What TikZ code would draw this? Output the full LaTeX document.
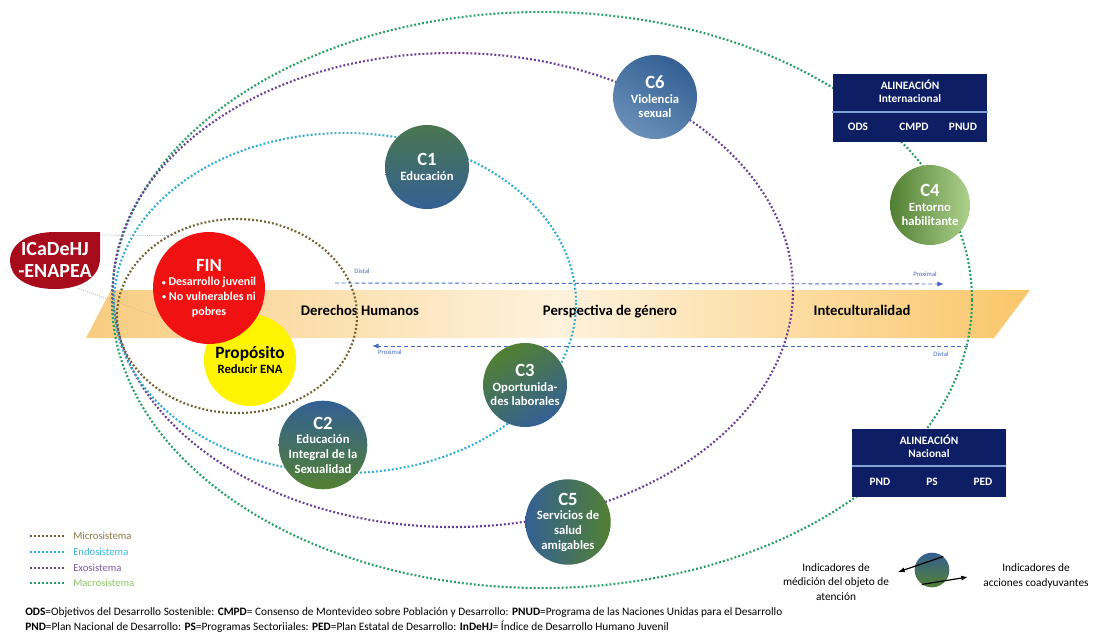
\documentclass[tikz,border=0pt]{standalone}
\usepackage{fontspec}
\setmainfont{Carlito}
\usetikzlibrary{arrows.meta}

\definecolor{microc}{RGB}{112,96,52}
\definecolor{endoc}{RGB}{48,172,212}
\definecolor{exoc}{RGB}{104,62,150}
\definecolor{macroc}{RGB}{38,158,98}
\definecolor{microt}{RGB}{140,120,70}
\definecolor{endot}{RGB}{60,182,226}
\definecolor{exot}{RGB}{128,88,170}
\definecolor{macrot}{RGB}{140,200,100}
\definecolor{bandl}{RGB}{248,204,128}
\definecolor{bandm}{RGB}{254,242,220}
\definecolor{bandr}{RGB}{250,198,105}
\definecolor{navy}{RGB}{14,30,100}
\definecolor{navyline}{RGB}{130,160,210}
\definecolor{finred}{RGB}{240,18,18}
\definecolor{propyel}{RGB}{255,244,0}
\definecolor{icadred}{RGB}{168,12,28}
\definecolor{flowblue}{RGB}{72,106,196}
\definecolor{linkgray}{RGB}{170,190,205}
\definecolor{cblue}{RGB}{52,96,148}
\definecolor{cgreen}{RGB}{82,128,50}
\definecolor{clight}{RGB}{172,200,228}
\definecolor{clgreen}{RGB}{172,208,140}

\newcommand{\comptitle}{\fontsize{14}{15}\selectfont}
\newcommand{\finbullet}{{\fontsize{6}{6}\selectfont\raisebox{0.5pt}{•}}\ }

\begin{document}
\begin{tikzpicture}[x=0.75pt,y=-0.75pt,
  sys/.style={line width=1.6pt,dash pattern=on 1.4pt off 1.6pt},
  comp/.style={circle,minimum size=63pt,inner sep=0pt,align=center,text=white,
    font=\bfseries\fontsize{9.5}{11}\selectfont},
  flow/.style={draw=flowblue,densely dashed,line width=0.7pt,-{Latex[length=5pt,width=4pt]}},
  flowlbl/.style={text=flowblue,font=\fontsize{5}{6}\selectfont,inner sep=1pt},
  bandtxt/.style={font=\bfseries\fontsize{11}{12}\selectfont,text height=8pt,text depth=2pt},
  navybox/.style={fill=navy,inner sep=0pt},
  boxtxt/.style={text=white,font=\bfseries\fontsize{8.5}{10}\selectfont,align=center,inner sep=0pt},
  legtxt/.style={anchor=west,font=\fontsize{8}{9}\selectfont,inner sep=0pt},
  link/.style={draw=linkgray,line width=0.6pt,densely dotted},
  note/.style={anchor=west,font=\fontsize{8.5}{10}\selectfont,inner sep=0pt},
  indtxt/.style={align=center,font=\fontsize{8.5}{11}\selectfont,inner sep=0pt}]
  \useasboundingbox (0,0) rectangle (1095,632);

  % band of approaches
  \shade[left color=bandl,right color=bandr,middle color=bandm]
    (86,338) -- (111,290) -- (1030,290) -- (994,338) -- cycle;
  \node[bandtxt] (ddhh) at (360,311) {Derechos Humanos};
  \node[bandtxt] (pgen) at (610,311) {Perspectiva de género};
  \node[bandtxt] (icult) at (862,311) {Inteculturalidad};

  % systems
  \draw[sys,macroc] (542,300) ellipse [x radius=430,y radius=288];
  \draw[sys,exoc] (453,290) ellipse [x radius=340,y radius=237];
  \draw[sys,endoc] (345,303) ellipse [x radius=231,y radius=170];
  \draw[sys,microc] (237,316) ellipse [x radius=120,y radius=97];

  % distal / proximal
  \coordinate (dist1) at (335,283);
  \coordinate (prox1) at (944,284);
  \draw[flow] (dist1) -- (prox1);
  \node[flowlbl] (dist1l) at (362,271) {Distal};
  \node[flowlbl] (prox1l) at (925,274) {Proximal};
  \coordinate (dist2) at (968,346);
  \coordinate (prox2) at (372,346);
  \draw[flow] (dist2) -- (prox2);
  \node[flowlbl] (prox2l) at (390,352) {Proximal};
  \node[flowlbl] (dist2l) at (941,354) {Distal};

  % ICaDeHJ
  \fill[icadred] (100,232) -- (100,258) .. controls (100,278) and (80,289) .. (55,289)
    .. controls (25,289) and (10,276) .. (10,261) .. controls (10,244) and (28,232) .. (55,232) -- cycle;
  \node[text=white,font=\bfseries\fontsize{15}{17}\selectfont,align=center,inner sep=0pt] (icad) at (55,260) {ICaDeHJ\\-ENAPEA};
  \coordinate (icadtop) at (100,235);
  \coordinate (icadbot) at (77,288);

  % fin y proposito
  \node[circle,fill=propyel,minimum size=69pt,inner sep=0pt,align=center,
    font=\bfseries\fontsize{9.5}{11}\selectfont] (prop) at (250,360)
    {{\fontsize{13}{14}\selectfont Propósito}\\Reducir ENA};
  \node[circle,fill=finred,minimum size=84pt,inner sep=0pt,align=center,text=white,
    font=\bfseries\fontsize{9}{11}\selectfont] (fin) at (209,288)
    {{\comptitle FIN}\\\finbullet Desarrollo juvenil\\\finbullet No vulnerables ni\\pobres};
  \draw[link] (icadtop) -- (fin.112);
  \draw[link] (icadbot) -- (fin.212);

  % components
  \node[comp,top color=cgreen!70!cblue,bottom color=cblue] (c1) at (427,167) {{\comptitle C1}\\Educación};
  \node[comp,top color=cblue,middle color=clight,bottom color=cgreen] (c2) at (323,445) {{\comptitle C2}\\Educación\\Integral de la\\Sexualidad};
  \node[comp,top color=cgreen,bottom color=cblue,shading angle=30] (c3) at (525,385) {{\comptitle C3}\\Oportunida-\\des laborales};
  \node[comp,minimum size=60pt,left color=cgreen,right color=clgreen] (c4) at (930,205) {{\comptitle C4}\\Entorno\\habilitante};
  \node[comp,left color=cblue,middle color=clight,right color=cgreen] (c5) at (568,522) {{\comptitle C5}\\Servicios de\\salud\\amigables};
  \node[comp,top color=cblue,bottom color=cblue!55!clight,shading angle=-30] (c6) at (655,97) {{\comptitle C6}\\Violencia\\sexual};

  % alineacion
  \node[navybox,minimum width=116pt,minimum height=51pt] (intl) at (910,108) {};
  \draw[navyline,line width=0.8pt] (832,112) -- (988,112);
  \node[boxtxt] (intlh) at (910,91) {ALINEACIÓN\\Internacional};
  \node[boxtxt] (ods) at (858,127) {ODS};
  \node[boxtxt] (cmpd) at (914,127) {CMPD};
  \node[boxtxt] (pnud) at (963,127) {PNUD};
  \node[navybox,minimum width=116pt,minimum height=51pt] (nal) at (929,463) {};
  \draw[navyline,line width=0.8pt] (852,466) -- (1006,466);
  \node[boxtxt] (nalh) at (929,446) {ALINEACIÓN\\Nacional};
  \node[boxtxt] (pnd) at (880,482) {PND};
  \node[boxtxt] (ps) at (932,482) {PS};
  \node[boxtxt] (ped) at (983,482) {PED};

  % legend
  \foreach \y/\c/\t/\tc in {536/microc/Microsistema/microt,552/endoc/Endosistema/endot,
      568/exoc/Exosistema/exot,583/macroc/Macrosistema/macrot}{
    \draw[sys,\c,line width=1.3pt] (30,\y) -- (64,\y);
    \node[legtxt,text=\tc] (leg-\t) at (73,\y) {\t};
  }

  % indicators
  \node[circle,minimum size=26pt,inner sep=0pt,top color=cblue,middle color=clight,bottom color=cgreen] (ind) at (932,570) {};
  \coordinate (indl) at (898,572);
  \coordinate (indr) at (968,577);
  \draw[-{Latex[length=5pt]},line width=0.9pt] (ind.50) -- (indl);
  \draw[-{Latex[length=5pt]},line width=0.9pt] (ind.235) -- (indr);
  \node[indtxt] (indtl) at (836,582) {Indicadores de\\médición del objeto de\\atención};
  \node[indtxt] (indtr) at (1036,576) {Indicadores de\\acciones coadyuvantes};

  % notes
  \node[note] (note1) at (25,613) {\textbf{ODS}=Objetivos del Desarrollo Sostenible: \textbf{CMPD}= Consenso de Montevideo sobre Población y Desarrollo: \textbf{PNUD}=Programa de las Naciones Unidas para el Desarrollo};
  \node[note] (note2) at (25,627) {\textbf{PND}=Plan Nacional de Desarrollo: \textbf{PS}=Programas Sectoriiales: \textbf{PED}=Plan Estatal de Desarrollo: \textbf{InDeHJ}= Índice de Desarrollo Humano Juvenil};
\end{tikzpicture}
\end{document}
